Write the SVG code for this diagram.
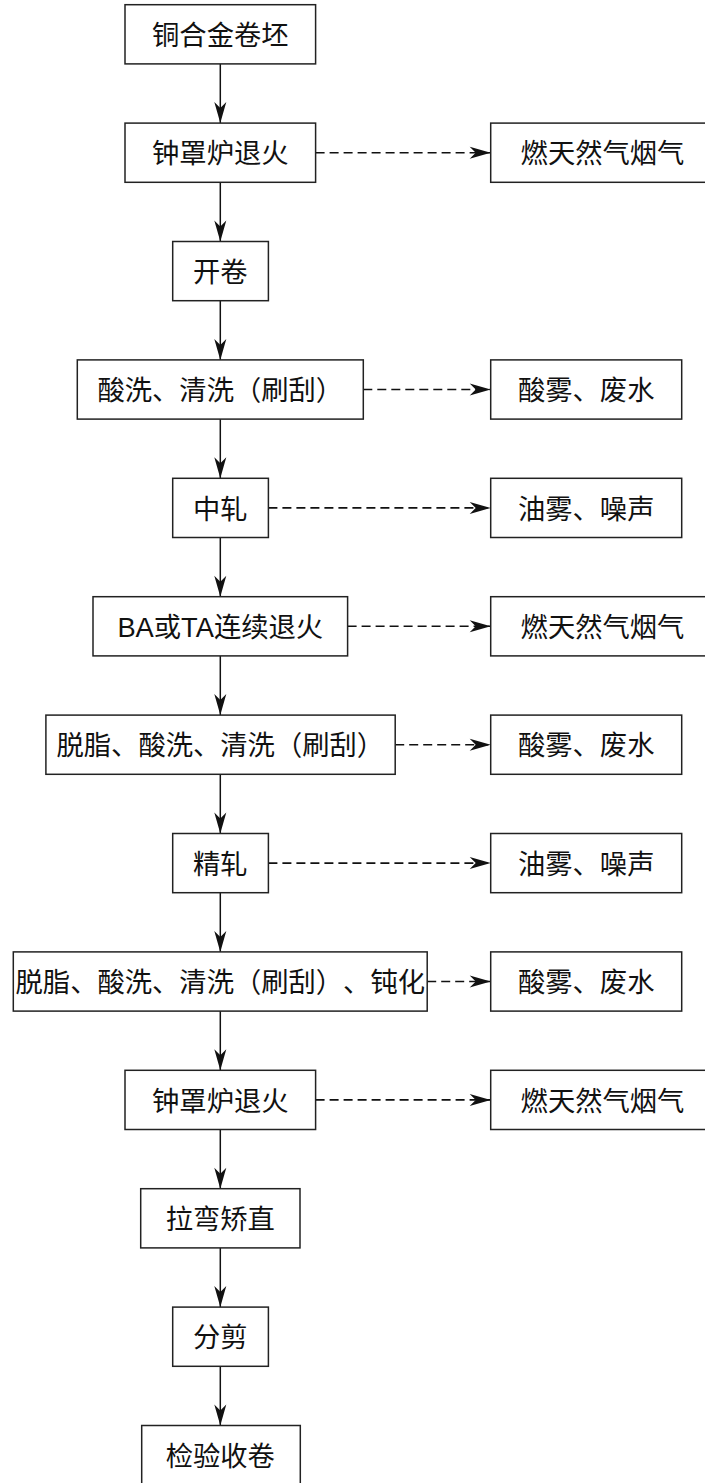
<svg xmlns="http://www.w3.org/2000/svg" width="705" height="1483" viewBox="0 0 705 1483">
<style>
.box{fill:#fff;stroke:#222;stroke-width:1.5}
.t{font-family:"Liberation Sans","Noto Sans CJK SC",sans-serif;font-size:27.3px;fill:#111;text-anchor:middle;text-spacing-trim:space-all}
.solid{stroke:#111;stroke-width:1.5;fill:none}
.dash{stroke:#111;stroke-width:1.6;fill:none;stroke-dasharray:9,5}
</style>
<defs>
<marker id="ah" markerUnits="userSpaceOnUse" viewBox="-22 -7 23 14" refX="0" refY="0" markerWidth="23" markerHeight="14" orient="auto">
<path d="M0,0 L-21,-6 L-15,0 L-21,6 Z" fill="#111"/>
</marker>
</defs>
<rect width="705" height="1483" fill="#fff"/>
<g id="connectors">
<line class="solid" x1="220.3" y1="63.9" x2="220.3" y2="123.1" marker-end="url(#ah)"/>
<line class="solid" x1="220.3" y1="182.3" x2="220.3" y2="241.5" marker-end="url(#ah)"/>
<line class="solid" x1="220.3" y1="300.7" x2="220.3" y2="359.9" marker-end="url(#ah)"/>
<line class="solid" x1="220.3" y1="419.1" x2="220.3" y2="478.3" marker-end="url(#ah)"/>
<line class="solid" x1="220.3" y1="537.5" x2="220.3" y2="596.7" marker-end="url(#ah)"/>
<line class="solid" x1="220.3" y1="655.9" x2="220.3" y2="715.1" marker-end="url(#ah)"/>
<line class="solid" x1="220.3" y1="774.3" x2="220.3" y2="833.5" marker-end="url(#ah)"/>
<line class="solid" x1="220.3" y1="892.7" x2="220.3" y2="951.9" marker-end="url(#ah)"/>
<line class="solid" x1="220.3" y1="1011.1" x2="220.3" y2="1070.3" marker-end="url(#ah)"/>
<line class="solid" x1="220.3" y1="1129.5" x2="220.3" y2="1188.7" marker-end="url(#ah)"/>
<line class="solid" x1="220.3" y1="1247.9" x2="220.3" y2="1307.1" marker-end="url(#ah)"/>
<line class="solid" x1="220.3" y1="1366.3" x2="220.3" y2="1425.5" marker-end="url(#ah)"/>
<line class="dash" x1="315.6" y1="152.7" x2="490.7" y2="152.7" marker-end="url(#ah)"/>
<line class="dash" x1="363.3" y1="389.5" x2="490.7" y2="389.5" marker-end="url(#ah)"/>
<line class="dash" x1="268.4" y1="507.9" x2="490.7" y2="507.9" marker-end="url(#ah)"/>
<line class="dash" x1="347.6" y1="626.3" x2="490.7" y2="626.3" marker-end="url(#ah)"/>
<line class="dash" x1="395.2" y1="744.7" x2="490.7" y2="744.7" marker-end="url(#ah)"/>
<line class="dash" x1="268.4" y1="863.1" x2="490.7" y2="863.1" marker-end="url(#ah)"/>
<line class="dash" x1="427.2" y1="981.5" x2="490.7" y2="981.5" marker-end="url(#ah)"/>
<line class="dash" x1="315.6" y1="1099.9" x2="490.7" y2="1099.9" marker-end="url(#ah)"/>
</g>
<g id="n1"><rect class="box" x="125" y="4.7" width="190.6" height="59.2"/><text class="t" x="220.3" y="45">铜合金卷坯</text></g>
<g id="n2"><rect class="box" x="125" y="123.1" width="190.6" height="59.2"/><text class="t" x="220.3" y="163.4">钟罩炉退火</text></g>
<g id="n3"><rect class="box" x="172.7" y="241.5" width="95.7" height="59.2"/><text class="t" x="220.3" y="281.8">开卷</text></g>
<g id="n4"><rect class="box" x="77.3" y="359.9" width="286" height="59.2"/><text class="t" x="220.3" y="400.2">酸洗、清洗（刷刮）</text></g>
<g id="n5"><rect class="box" x="172.7" y="478.3" width="95.7" height="59.2"/><text class="t" x="220.3" y="518.6">中轧</text></g>
<g id="n6"><rect class="box" x="93" y="596.7" width="254.6" height="59.2"/><text class="t" x="220.3" y="637">BA或TA连续退火</text></g>
<g id="n7"><rect class="box" x="45.9" y="715.1" width="349.3" height="59.2"/><text class="t" x="220.3" y="755.4">脱脂、酸洗、清洗（刷刮）</text></g>
<g id="n8"><rect class="box" x="172.7" y="833.5" width="95.7" height="59.2"/><text class="t" x="220.3" y="873.8">精轧</text></g>
<g id="n9"><rect class="box" x="13.3" y="951.9" width="413.9" height="59.2"/><text class="t" x="220.3" y="992.2">脱脂、酸洗、清洗（刷刮）、钝化</text></g>
<g id="n10"><rect class="box" x="125" y="1070.3" width="190.6" height="59.2"/><text class="t" x="220.3" y="1110.6">钟罩炉退火</text></g>
<g id="n11"><rect class="box" x="140.7" y="1188.7" width="159.3" height="59.2"/><text class="t" x="220.3" y="1229">拉弯矫直</text></g>
<g id="n12"><rect class="box" x="172.7" y="1307.1" width="95.7" height="59.2"/><text class="t" x="220.3" y="1347.4">分剪</text></g>
<g id="n13"><rect class="box" x="141.7" y="1425.5" width="158.6" height="59.2"/><text class="t" x="220.3" y="1465.8">检验收卷</text></g>
<g id="r1"><rect class="box" x="490.7" y="123.1" width="224" height="59.2"/><text class="t" x="602.5" y="163.4">燃天然气烟气</text></g>
<g id="r2"><rect class="box" x="490.7" y="359.9" width="191" height="59.2"/><text class="t" x="586.2" y="400.2">酸雾、废水</text></g>
<g id="r3"><rect class="box" x="490.7" y="478.3" width="191" height="59.2"/><text class="t" x="586.2" y="518.6">油雾、噪声</text></g>
<g id="r4"><rect class="box" x="490.7" y="596.7" width="224" height="59.2"/><text class="t" x="602.5" y="637">燃天然气烟气</text></g>
<g id="r5"><rect class="box" x="490.7" y="715.1" width="191" height="59.2"/><text class="t" x="586.2" y="755.4">酸雾、废水</text></g>
<g id="r6"><rect class="box" x="490.7" y="833.5" width="191" height="59.2"/><text class="t" x="586.2" y="873.8">油雾、噪声</text></g>
<g id="r7"><rect class="box" x="490.7" y="951.9" width="191" height="59.2"/><text class="t" x="586.2" y="992.2">酸雾、废水</text></g>
<g id="r8"><rect class="box" x="490.7" y="1070.3" width="224" height="59.2"/><text class="t" x="602.5" y="1110.6">燃天然气烟气</text></g>
</svg>
